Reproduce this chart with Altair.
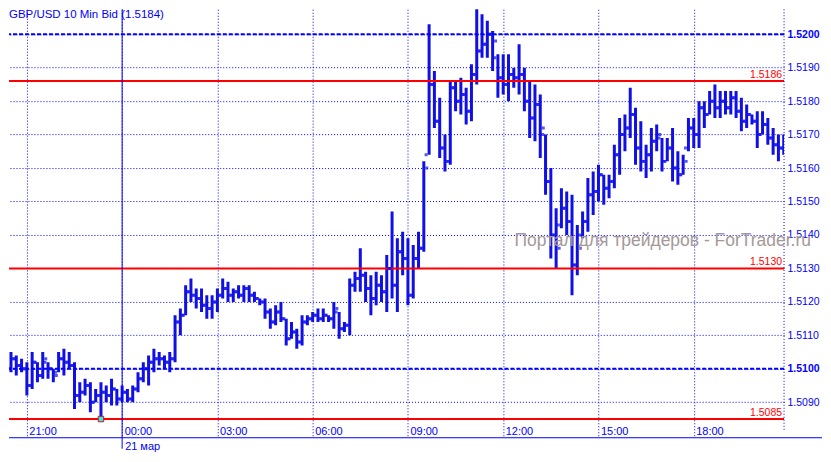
import altair as alt
import pandas as pd

# ---------------- data ----------------
BASE = 1.5100          # prices below are given in pips above this level
PIP = 0.0001
FIRST_BAR_MIN = -230   # first bar 20:10 (20 Mar), minutes from 00:00 21 Mar
BAR_STEP_MIN = 10      # 10-minute bars

open_pips = [5, 2, 0, 3, 1, 0, -5, 2, -2, 2,
             0, -1, 3, 2, 1, -8, -7, -5, -10, -8,
             -7, -8, -6, -9, -7, -9, -6, -3, 0, 2,
             3, 3, 2, 3, 14, 16, 23, 22, 21, 19,
             18, 20, 22, 24, 22, 23, 22, 24, 22, 21,
             20, 17, 14, 17, 15, 9, 11, 8, 14, 15,
             16, 15, 16, 15, 17, 12, 13, 25, 27, 28,
             24, 21, 25, 23, 30, 25, 35, 33, 22, 33,
             36, 64, 85, 74, 66, 62, 84, 80, 82, 77,
             88, 95, 97, 100, 93, 87, 85, 88, 87, 88,
             80, 75, 79, 70, 56, 40, 43, 48, 44, 31,
             40, 44, 52, 53, 58, 54, 56, 64, 70, 72,
             76, 66, 62, 64, 68, 69, 62, 66, 60, 58,
             66, 72, 70, 78, 76, 80, 78, 80, 78, 81,
             77, 74, 76, 74, 70, 73, 69, 67, 66]

high_pips = [8, 5, 5, 4, 3, 2, 5, 2, 5, 2,
             0, 5, 6, 5, 2, -4, -3, -4, -6, -4,
             -5, -3, -6, -5, -6, -5, -1, 2, 4, 6,
             5, 4, 5, 16, 18, 25, 27, 24, 24, 22,
             22, 24, 27, 26, 24, 25, 25, 25, 23, 21,
             21, 18, 19, 20, 15, 14, 12, 16, 16, 17,
             18, 18, 16, 20, 17, 14, 27, 29, 36, 29,
             28, 29, 28, 34, 47, 39, 41, 39, 37, 41,
             62, 103, 89, 81, 70, 86, 86, 87, 84, 91,
             108, 106, 104, 101, 94, 94, 94, 90, 97, 90,
             86, 85, 82, 70, 60, 48, 54, 53, 52, 43,
             47, 57, 59, 61, 58, 58, 67, 75, 76, 84,
             78, 74, 67, 72, 73, 69, 69, 72, 65, 64,
             75, 75, 80, 80, 83, 85, 83, 83, 83, 83,
             81, 79, 76, 77, 77, 75, 72, 70, 70]

low_pips = [-3, -3, -1, -2, -1, -8, -6, -4, -3, -3,
            -4, -1, -2, 0, -12, -10, -8, -13, -10, -15,
            -10, -11, -11, -10, -10, -10, -7, -4, -5, -1,
            1, 0, -1, 2, 10, 16, 20, 18, 17, 15,
            15, 17, 21, 20, 20, 21, 20, 20, 20, 19,
            15, 12, 13, 14, 7, 9, 6, 7, 13, 14,
            14, 14, 14, 12, 9, 11, 10, 23, 23, 20,
            16, 19, 20, 17, 21, 17, 28, 19, 21, 30,
            35, 64, 72, 63, 59, 61, 77, 76, 73, 74,
            85, 93, 93, 89, 81, 82, 80, 84, 82, 77,
            69, 68, 63, 52, 33, 30, 42, 40, 22, 28,
            39, 41, 46, 50, 49, 51, 54, 58, 65, 69,
            61, 59, 57, 59, 65, 59, 62, 56, 55, 58,
            65, 66, 66, 72, 76, 75, 75, 76, 76, 75,
            71, 72, 73, 66, 70, 67, 64, 62, 64]

close_pips = [2, 0, 3, 1, 0, -5, 2, -2, 3, 0,
              -2, 3, 2, 1, -8, -7, -5, -10, -8, -7,
              -8, -6, -9, -7, -9, -6, -3, 0, 2, 3,
              3, 2, 3, 14, 16, 23, 22, 21, 19, 18,
              20, 22, 24, 22, 23, 22, 24, 22, 21, 20,
              17, 14, 17, 15, 9, 11, 8, 14, 15, 16,
              15, 16, 15, 18, 12, 13, 25, 27, 28, 24,
              21, 25, 23, 30, 25, 35, 33, 22, 33, 36,
              60, 85, 74, 66, 62, 84, 80, 82, 77, 88,
              95, 97, 100, 98, 87, 85, 88, 87, 88, 80,
              75, 79, 72, 56, 40, 36, 48, 44, 31, 36,
              44, 52, 53, 58, 54, 56, 64, 70, 72, 76,
              66, 62, 64, 68, 70, 62, 66, 60, 58, 62,
              72, 70, 78, 76, 80, 78, 80, 78, 81, 77,
              74, 76, 74, 70, 73, 69, 67, 66, 68]

levels = [1.5186, 1.5130, 1.5085]
level_labels = ["1.5186", "1.5130", "1.5085"]
major_levels = [1.5100, 1.5200]
price_ticks = [1.5090, 1.5100, 1.5110, 1.5120, 1.5130, 1.5140,
               1.5150, 1.5160, 1.5170, 1.5180, 1.5190, 1.5200]
time_ticks = [-180, 0, 180, 360, 540, 720, 900, 1080]   # 21:00 ... 18:00
day_start = [0]
day_label = ["21 мар"]
title_text = ["GBP/USD 10 Min Bid (1.5184)"]
watermark_text = ["Портал для трейдеров - ForTrader.ru"]

# ---------------- styling / layout ----------------
W, H = 776, 429
X_DOMAIN = [-213.75, 1250.625]
Y_DOMAIN = [1.507940, 1.520746]
BLUE = "#0000ff"
BAR = "#1010e6"
RED = "#ff0000"
FONT = "Liberation Sans"

n = len(open_pips)
df = pd.DataFrame({
    "t": [FIRST_BAR_MIN + BAR_STEP_MIN * i for i in range(n)],
    "open": [round(BASE + p * PIP, 4) for p in open_pips],
    "high": [round(BASE + p * PIP, 4) for p in high_pips],
    "low": [round(BASE + p * PIP, 4) for p in low_pips],
    "close": [round(BASE + p * PIP, 4) for p in close_pips],
})
low_df = df.loc[[df["low"].idxmin()]]

xscale = alt.Scale(domain=X_DOMAIN, nice=False, zero=False)
yscale = alt.Scale(domain=Y_DOMAIN, nice=False, zero=False)

x_axis = alt.Axis(
    values=time_ticks, orient="bottom", offset=-14, domain=False, ticks=False,
    grid=True, gridColor=BLUE, gridDash=[1, 2], gridWidth=1, gridOpacity=1,
    labelAlign="left", labelBaseline="top", labelPadding=2, labelOffset=2,
    labelColor=BLUE, labelFont=FONT, labelFontSize=11, labelFlush=False,
    labelOverlap=False, labelBound=False,
    labelExpr="timeFormat(datetime(2011, 2, 21, 0, datum.value), '%H:%M')",
)
y_axis = alt.Axis(
    values=price_ticks, orient="right", format=".4f", domain=False, ticks=False,
    grid=True, gridColor=BLUE, gridDash=[1, 2], gridWidth=1, gridOpacity=1,
    labelPadding=3, labelColor=BLUE, labelFont=FONT, labelFontSize=10.5,
    labelFlush=False, labelOverlap=False, labelBound=False,
    labelFontWeight={"condition": {"test": "abs(datum.value - 1.51) < 0.00001 || abs(datum.value - 1.52) < 0.00001",
                                   "value": "bold"}, "value": "normal"},
)


def X(field):
    return alt.X(field, type="quantitative", scale=xscale, axis=x_axis, title=None)


def Y(field):
    return alt.Y(field, type="quantitative", scale=yscale, axis=y_axis, title=None)


base = alt.Chart(df)

hl = base.mark_rule(color=BAR, strokeWidth=3, clip=True).encode(
    x=X("t"), y=Y("low"), y2="high:Q")
op = base.mark_tick(orient="horizontal", color=BAR, size=3, thickness=3,
                    xOffset=-3, clip=True).encode(x=X("t"), y=Y("open"))
cl = base.mark_tick(orient="horizontal", color=BAR, size=3, thickness=3,
                    xOffset=3, clip=True).encode(x=X("t"), y=Y("close"))

major = alt.Chart(pd.DataFrame({"level": major_levels})).mark_rule(
    color=BLUE, strokeWidth=2, strokeDash=[4, 2]).encode(y=Y("level"))

lev_df = pd.DataFrame({"level": levels, "label": level_labels})
red_lines = alt.Chart(lev_df).mark_rule(color=RED, strokeWidth=2).encode(y=Y("level"))
red_text = alt.Chart(lev_df).mark_text(
    color=RED, align="right", baseline="bottom", dy=-1, font=FONT, fontSize=10.5
).encode(x=alt.value(W - 2), y=Y("level"), text="label:N")

day_df = pd.DataFrame({"t": day_start, "label": day_label})
day_line = alt.Chart(day_df).mark_rule(color=BLUE, strokeWidth=1).encode(
    x=X("t"), y=alt.value(0), y2=alt.value(H + 11))
day_text = alt.Chart(day_df).mark_text(
    color=BLUE, align="left", baseline="middle", dx=3, font=FONT, fontSize=11
).encode(x=X("t"), y=alt.value(H + 9), text="label:N")

bottom_line = alt.Chart(day_df).mark_rule(color=BLUE, strokeWidth=1).encode(
    x=alt.value(0), x2=alt.value(W + 38), y=alt.value(H))
right_border = alt.Chart(day_df).mark_rule(color=BLUE, strokeWidth=1, strokeDash=[1, 2]).encode(
    x=alt.value(W), y=alt.value(0), y2=alt.value(H - 7))

marker = alt.Chart(low_df).mark_square(
    size=30, fill="#00ffff", stroke=RED, strokeWidth=1, opacity=1
).encode(x=X("t"), y=Y("low"))

title = alt.Chart(pd.DataFrame({"text": title_text})).mark_text(
    color=BLUE, align="left", baseline="top", font=FONT, fontSize=11.5
).encode(x=alt.value(0), y=alt.value(0), text="text:N")

watermark = alt.Chart(pd.DataFrame({"text": watermark_text})).mark_text(
    color="#a49898", align="left", baseline="middle", font=FONT, fontSize=17.5
).encode(x=alt.value(506), y=alt.value(232), text="text:N")

chart = alt.layer(
    hl, major, red_lines, op, cl, day_line, bottom_line, right_border,
    red_text, marker, day_text, title, watermark
).properties(
    width=W, height=H, padding=0, background="white"
).configure_view(stroke=None).configure_axis(labelOverlap=False)

chart.save("out.html", embed_options={"renderer": "svg", "actions": False})
